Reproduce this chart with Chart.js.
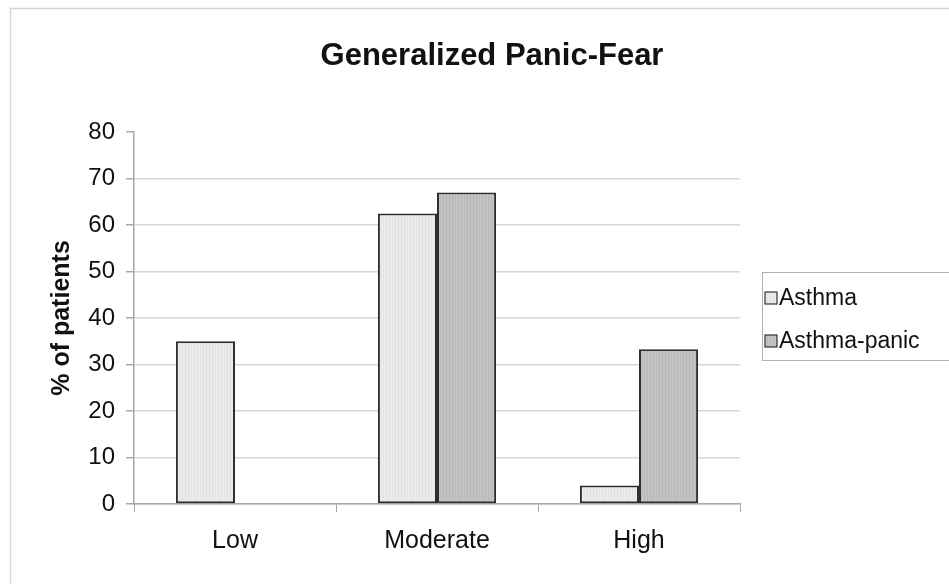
<!DOCTYPE html>
<html>
<head>
<meta charset="utf-8">
<title>Generalized Panic-Fear</title>
<script src="https://cdn.jsdelivr.net/npm/chart.js@4.4.1/dist/chart.umd.min.js"></script>
<style>
  html, body { margin: 0; padding: 0; background: #ffffff; overflow: hidden; }
  #wrap { position: relative; width: 982px; height: 584px; }
</style>
</head>
<body>
<div id="wrap"><canvas id="chart" width="982" height="584"></canvas></div>
<script>
// Fear level groups and the share of patients in each (%)
const categories = ['Low', 'Moderate', 'High'];
const asthma = [35, 62.5, 4];
const asthmaPanic = [0, 67, 33.3];
const yTicks = [0, 10, 20, 30, 40, 50, 60, 70, 80];
const seriesNames = ['Asthma', 'Asthma-panic'];
const chartTitle = 'Generalized Panic-Fear';

const FONT = '"Liberation Sans", Arial, sans-serif';
const edge = '#2e2e2e';

// Faintly striped fills, like a printed grey shade
function stripedFill(base, alt) {
  const c = document.createElement('canvas');
  c.width = 6; c.height = 4;
  const g = c.getContext('2d');
  g.fillStyle = base; g.fillRect(0, 0, 6, 4);
  g.fillStyle = alt; g.fillRect(2, 0, 1, 4); g.fillRect(5, 0, 1, 4);
  return g.createPattern(c, 'repeat');
}
const fills = [stripedFill('#ebebeb', '#e2e2e2'), stripedFill('#c3c3c3', '#b8b8b8')];

// Frame around the whole figure, the title, and the boxed legend on the right
const framePlugin = {
  id: 'frameAndLegend',
  afterDraw(chart) {
    const ctx = chart.ctx;
    ctx.save();
    ctx.strokeStyle = '#d6d6d6';
    ctx.lineWidth = 1.5;
    ctx.strokeRect(10.5, 8.5, chart.width - 21, chart.height + 20);

    ctx.fillStyle = '#111111';
    ctx.font = 'bold 31px ' + FONT;
    ctx.textAlign = 'center';
    ctx.textBaseline = 'middle';
    ctx.fillText(chartTitle, 492, 56);

    // legend box
    ctx.strokeStyle = '#b0b0b0';
    ctx.lineWidth = 1;
    ctx.fillStyle = '#ffffff';
    ctx.fillRect(762.5, 272.5, 240, 88);
    ctx.strokeRect(762.5, 272.5, 240, 88);

    const rows = [298, 341];
    ctx.font = '23px ' + FONT;
    ctx.textBaseline = 'middle';
    ctx.textAlign = 'left';
    chart.data.datasets.forEach((ds, i) => {
      const y = rows[i];
      ctx.fillStyle = ds.backgroundColor;
      ctx.fillRect(765, y - 6, 12, 12);
      ctx.strokeStyle = '#333333';
      ctx.lineWidth = 1.2;
      ctx.strokeRect(765, y - 6, 12, 12);
      ctx.fillStyle = '#111111';
      ctx.fillText(ds.label, 779, y + 1);
    });
    ctx.restore();
  }
};

new Chart(document.getElementById('chart'), {
  type: 'bar',
  data: {
    labels: categories,
    datasets: [
      { label: seriesNames[0], data: asthma, backgroundColor: fills[0] },
      { label: seriesNames[1], data: asthmaPanic, backgroundColor: fills[1] }
    ]
  },
  options: {
    responsive: false,
    animation: false,
    devicePixelRatio: 1,
    layout: { padding: { left: 10, right: 242, top: 132, bottom: 0 } },
    datasets: {
      bar: {
        categoryPercentage: 0.585,
        barPercentage: 1.0,
        borderColor: edge,
        borderWidth: 2,
        borderSkipped: false
      }
    },
    plugins: {
      legend: { display: false },
      tooltip: { enabled: false },
      title: { display: false }
    },
    scales: {
      x: {
        afterFit(scale) { scale.height = 80; },
        border: { display: true, color: '#a8a8a8', width: 1.5 },
        grid: {
          display: true,
          drawOnChartArea: false,
          drawTicks: true,
          tickLength: 8,
          tickColor: '#a8a8a8',
          offset: true
        },
        ticks: {
          color: '#111111',
          font: { family: FONT, size: 25 },
          padding: 14
        }
      },
      y: {
        min: 0,
        max: 80,
        afterFit(scale) { scale.width = 124; },
        afterBuildTicks(scale) { scale.ticks = yTicks.map(v => ({ value: v })); },
        border: { display: true, color: '#a8a8a8', width: 1.5 },
        grid: {
          color: ctx => (ctx.tick && ctx.tick.value === 80) ? 'rgba(0,0,0,0)' : '#d6d6d6',
          lineWidth: 1.5,
          tickLength: 8,
          tickColor: '#a8a8a8'
        },
        ticks: {
          color: '#111111',
          font: { family: FONT, size: 24 },
          padding: 11
        },
        title: {
          display: true,
          text: '% of patients',
          color: '#111111',
          font: { family: FONT, size: 25, weight: 'bold' },
          padding: { top: 37, bottom: 0 }
        }
      }
    }
  },
  plugins: [framePlugin]
});
</script>
</body>
</html>
